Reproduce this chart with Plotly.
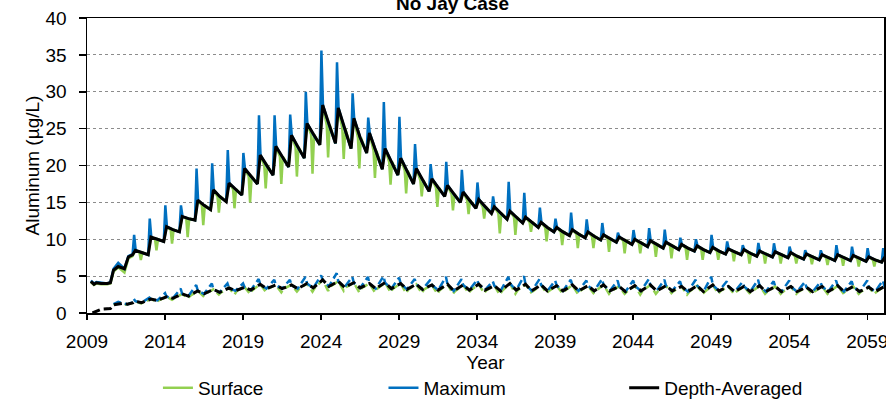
import plotly.graph_objects as go

# ---------------- data ----------------
YEARS = list(range(2012, 2061))

# Upper group (solid lines), per year
MAX_SPIKE = [10.6, 12.8, 14.6, 14.6, 19.6, 20.3, 22.1, 21.7, 26.8, 26.8,
             26.9, 30.0, 35.6, 34.0, 29.8, 26.5, 28.6, 26.6, 22.9, 20.2,
             20.5, 19.4, 17.7, 15.8, 17.8, 16.3, 14.3, 12.8, 13.6, 12.7,
             12.2, 10.9, 11.25, 11.5, 11.3, 10.2, 10.0, 10.6, 9.7, 9.2,
             9.5, 9.45, 9.0, 8.5, 8.5, 9.2, 9.0, 8.8, 8.8]
AVG_PEAK = [8.5, 10.3, 11.7, 13.1, 15.3, 16.7, 17.6, 19.6, 21.4, 22.6,
            24.1, 25.7, 28.2, 27.8, 26.4, 24.4, 22.3, 21.0, 19.6, 18.2,
            17.3, 16.4, 15.4, 14.4, 13.8, 13.0, 12.3, 11.6, 11.3, 11.0,
            10.6, 10.3, 10.0, 9.8, 9.6, 9.3, 9.1, 8.9, 8.7, 8.6,
            8.4, 8.3, 8.2, 8.0, 7.9, 7.9, 7.8, 7.6, 7.5]
AVG_MID = [8.2, 10.0, 11.3, 12.8, 14.6, 15.8, 16.8, 18.5, 20.0, 21.2,
           22.5, 24.2, 25.5, 25.0, 23.8, 22.0, 20.5, 19.3, 18.0, 17.0,
           16.1, 15.3, 14.4, 13.5, 13.0, 12.3, 11.6, 11.0, 10.7, 10.4,
           10.1, 9.8, 9.5, 9.3, 9.1, 8.8, 8.6, 8.4, 8.3, 8.1,
           8.0, 7.9, 7.7, 7.6, 7.5, 7.5, 7.4, 7.2, 7.2]
AVG_LOW = [7.9, 9.7, 11.0, 12.6, 14.0, 15.1, 16.0, 17.5, 18.7, 19.8,
           21.0, 22.8, 23.0, 22.3, 21.7, 19.5, 18.7, 17.5, 16.5, 15.8,
           15.0, 14.2, 13.5, 12.7, 12.2, 11.6, 11.0, 10.5, 10.2, 9.9,
           9.6, 9.3, 9.0, 8.8, 8.6, 8.4, 8.2, 8.0, 7.9, 7.7,
           7.6, 7.5, 7.3, 7.2, 7.1, 7.1, 7.0, 6.9, 6.9]
SURF_DIP = [7.2, 8.5, 9.4, 10.3, 11.9, 13.6, 14.2, 15.0, 16.9, 17.5,
            18.5, 18.9, 21.1, 20.9, 19.6, 18.3, 17.4, 16.2, 15.8, 14.4,
            13.9, 13.4, 12.8, 10.8, 10.6, 11.0, 9.7, 9.2, 8.8, 8.8,
            8.3, 8.1, 8.1, 7.6, 7.4, 7.2, 7.2, 7.2, 7.0, 6.7,
            6.7, 6.7, 6.7, 6.6, 6.5, 6.4, 6.3, 6.3, 6.3]

# Upper group, first years (2009-2011)
HEAD_T = [2009.25, 2009.45, 2009.6, 2009.9, 2010.3, 2010.5, 2010.7, 2011.0, 2011.4, 2011.65, 2011.92]
HEAD_AVG = [4.3, 3.9, 4.1, 4.0, 4.0, 4.1, 5.8, 6.3, 6.0, 7.6, 7.9]
HEAD_MAX = [4.4, 4.0, 4.2, 4.1, 4.0, 4.2, 6.0, 6.8, 6.0, 7.7, 8.0]
HEAD_SURF = [4.2, 3.8, 4.0, 3.9, 3.9, 4.0, 5.6, 6.2, 5.5, 7.4, 7.7]

# Lower group (dashed lines), per year
MAX2_SPIKE = [1.9, 2.1, 2.7, 3.3, 3.8, 4.0, 4.0, 4.0, 4.6, 4.5,
              4.5, 4.9, 5.1, 5.4, 4.9, 4.9, 5.0, 4.8, 4.6, 4.5,
              4.9, 4.6, 4.5, 4.3, 4.9, 5.0, 4.6, 4.4, 4.5, 4.4,
              4.6, 4.4, 4.4, 4.6, 4.5, 4.3, 4.5, 4.9, 4.3, 4.2,
              4.5, 4.3, 4.4, 4.2, 4.2, 4.4, 4.3, 4.4, 4.4]
AVG2_PEAK = [1.6, 1.9, 2.2, 2.6, 3.0, 3.2, 3.4, 3.5, 3.9, 3.8,
             3.8, 4.0, 4.5, 4.3, 4.1, 4.0, 4.1, 4.0, 3.9, 3.8,
             3.9, 3.8, 3.9, 3.7, 4.0, 3.9, 3.8, 3.7, 3.8, 3.7,
             3.8, 3.6, 3.7, 3.8, 3.7, 3.6, 3.7, 3.8, 3.6, 3.6,
             3.7, 3.6, 3.6, 3.5, 3.6, 3.7, 3.6, 3.5, 3.6]
AVG2_LOW = [1.4, 1.7, 2.0, 2.3, 2.6, 2.8, 3.0, 3.1, 3.3, 3.3,
            3.3, 3.4, 3.6, 3.5, 3.4, 3.3, 3.3, 3.2, 3.2, 3.1,
            3.0, 3.1, 3.1, 3.0, 3.1, 3.0, 3.0, 3.0, 3.0, 3.0,
            3.0, 2.9, 3.0, 3.0, 3.0, 2.9, 2.9, 3.0, 2.9, 2.9,
            2.9, 2.9, 2.9, 2.9, 2.9, 2.9, 2.9, 2.9, 2.9]
SURF2_DIP = [1.3, 1.5, 1.8, 2.0, 2.3, 2.5, 2.5, 2.6, 2.9, 2.8,
             2.9, 2.9, 3.0, 3.0, 2.8, 2.8, 2.8, 2.7, 2.7, 2.6,
             2.6, 2.7, 2.7, 2.5, 2.6, 2.8, 2.7, 2.7, 2.6, 2.7,
             2.6, 2.6, 2.5, 2.6, 2.7, 2.5, 2.6, 2.6, 2.6, 2.7,
             2.6, 2.6, 2.6, 2.6, 2.6, 2.7, 2.6, 2.6, 2.6]

HEAD2_AVG_T = [2009.35, 2009.9, 2010.5, 2010.7, 2011.3, 2011.6, 2011.97]
HEAD2_AVG = [0.0, 0.5, 0.6, 1.1, 1.3, 1.2, 1.4]
HEAD2_MAX_T = [2010.7, 2011.0, 2011.3, 2011.6, 2011.97]
HEAD2_MAX = [1.2, 1.5, 1.3, 1.2, 1.5]
HEAD2_SURF_T = [2010.7, 2011.0, 2011.4, 2011.97]
HEAD2_SURF = [1.1, 1.4, 1.1, 1.4]

# within-year timing of the features (fraction of a year)
PH_SPIKE, PH_PEAK, PH_PRE, PH_MID, PH_DIP, PH_POST, PH_LOW = 0.02, 0.1, 0.36, 0.5, 0.45, 0.55, 0.92

# ---------------- assemble series ----------------
avg_x, avg_y = list(HEAD_T), list(HEAD_AVG)
max_x, max_y = list(HEAD_T), list(HEAD_MAX)
srf_x, srf_y = list(HEAD_T), list(HEAD_SURF)
for i, yr in enumerate(YEARS):
    avg_x += [yr + PH_PEAK, yr + PH_MID, yr + PH_LOW]
    avg_y += [AVG_PEAK[i], AVG_MID[i], AVG_LOW[i]]
    max_x += [yr + PH_SPIKE, yr + 0.12, yr + PH_MID, yr + PH_LOW]
    max_y += [MAX_SPIKE[i], AVG_PEAK[i], AVG_MID[i], AVG_LOW[i]]
    srf_x += [yr + PH_PEAK, yr + PH_PRE, yr + PH_DIP, yr + PH_POST, yr + PH_LOW]
    srf_y += [AVG_PEAK[i], AVG_MID[i], SURF_DIP[i], AVG_MID[i], AVG_LOW[i]]

avg2_x, avg2_y = list(HEAD2_AVG_T), list(HEAD2_AVG)
max2_x, max2_y = list(HEAD2_MAX_T), list(HEAD2_MAX)
srf2_x, srf2_y = list(HEAD2_SURF_T), list(HEAD2_SURF)
for i, yr in enumerate(YEARS):
    avg2_x += [yr + 0.1, yr + 0.5]
    avg2_y += [AVG2_PEAK[i], AVG2_LOW[i]]
    max2_x += [yr + 0.0, yr + 0.1, yr + 0.5]
    max2_y += [MAX2_SPIKE[i], AVG2_PEAK[i], AVG2_LOW[i]]
    srf2_x += [yr + 0.1, yr + 0.45, yr + 0.6]
    srf2_y += [AVG2_PEAK[i], SURF2_DIP[i], AVG2_LOW[i]]

GREEN, BLUE, BLACK = "#92D050", "#0070C0", "#000000"
FONT = "Liberation Sans, Arial, sans-serif"

fig = go.Figure()
fig.add_trace(go.Scatter(x=srf_x, y=srf_y, mode="lines", name="Surface",
                         line=dict(color=GREEN, width=2.5), legend="legend"))
fig.add_trace(go.Scatter(x=max_x, y=max_y, mode="lines", name="Maximum",
                         line=dict(color=BLUE, width=2.5), legend="legend2"))
fig.add_trace(go.Scatter(x=avg_x, y=avg_y, mode="lines", name="Depth-Averaged",
                         line=dict(color=BLACK, width=3), legend="legend3"))
fig.add_trace(go.Scatter(x=srf2_x, y=srf2_y, mode="lines", showlegend=False,
                         line=dict(color=GREEN, width=2.5, dash="8px,4px")))
fig.add_trace(go.Scatter(x=max2_x, y=max2_y, mode="lines", showlegend=False,
                         line=dict(color=BLUE, width=2.5, dash="8px,4px")))
fig.add_trace(go.Scatter(x=avg2_x, y=avg2_y, mode="lines", showlegend=False,
                         line=dict(color=BLACK, width=3, dash="8px,4px")))

leg = dict(orientation="h", yanchor="middle", y=-0.254, xanchor="left",
           font=dict(family=FONT, size=19, color="#000"), bgcolor="rgba(0,0,0,0)",
           itemwidth=30)
fig.update_layout(
    width=886, height=400,
    margin=dict(l=87, r=2, t=18, b=87, autoexpand=False),
    paper_bgcolor="white", plot_bgcolor="white",
    font=dict(family=FONT, size=19, color="#000"),
    legend=dict(leg, x=0.089),
    legend2=dict(leg, x=0.372),
    legend3=dict(leg, x=0.674),
    annotations=[dict(text="<b>No Jay Case</b>", xref="paper", yref="paper",
                      x=0.459, y=1, xanchor="center", yanchor="bottom", yshift=2,
                      showarrow=False, font=dict(family=FONT, size=19, color="#000"))],
)
fig.update_xaxes(range=[2009, 2060.07], tick0=2009, dtick=5, ticks="outside", ticklen=5,
                 tickwidth=1.5, tickcolor="#000", showline=True, linecolor="#000",
                 linewidth=1.5, mirror=True, showgrid=False, zeroline=False,
                 ticklabelstandoff=6, ticklabeloverflow="allow", automargin=False,
                 title=dict(text="Year", standoff=4, font=dict(size=19)))
fig.update_yaxes(range=[0, 40], tick0=0, dtick=5, ticks="outside", ticklen=7,
                 tickwidth=1.5, tickcolor="#000", showline=True, linecolor="#000",
                 linewidth=1.5, mirror=True, showgrid=True, gridcolor="#8c8c8c",
                 gridwidth=1, griddash="dot", zeroline=False, ticklabelstandoff=8,
                 automargin=False,
                 title=dict(text="Aluminum (µg/L)", standoff=1, font=dict(size=19)))

fig.write_html("out.html",
               config={"displayModeBar": False, "staticPlot": True},
               post_script="document.body.style.margin='0px';document.body.style.overflow='hidden';")
